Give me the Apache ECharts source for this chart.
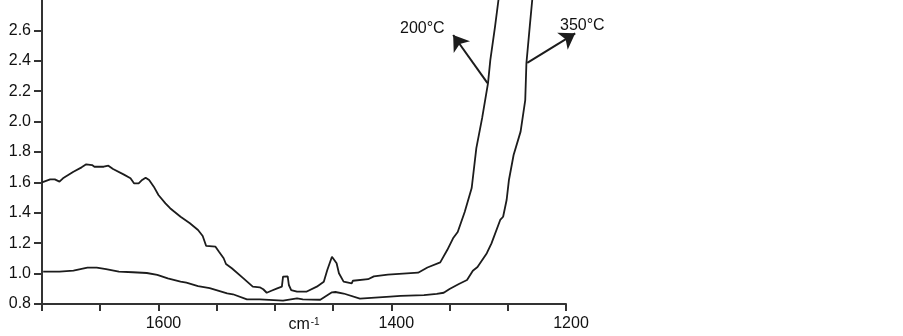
<!DOCTYPE html>
<html>
<head>
<meta charset="utf-8">
<script src="https://cdn.jsdelivr.net/npm/echarts@6/dist/echarts.min.js"></script>
<style>
  html, body { margin: 0; padding: 0; background: #fff; }
  #chart { width: 903px; height: 336px; }
</style>
</head>
<body>
<div id="chart"></div>
<script>
// wavenumber (cm-1) and absorbance
const wn200 = [1700,1693,1689,1685,1682,1673,1666,1662,1657,1655,1647,1643,1639,1630,1624,1621,1617,1614,1611,1608,
  1604,1600,1594,1590,1581,1573,1566,1562,1559,1551,1548,1544,1542,1537,1527,1519,1513,1510,1507,1503,
  1498,1494,1493,1489,1488,1486,1481,1473,1464,1458,1455,1451,1450,1447,1445,1441,1434,1433,1420,1415,
  1403,1377,1369,1358,1352,1347,1343,1337,1331,1327,1322,1317,1315,1311,1308,1306];
const abs200 = [1.60,1.62,1.62,1.605,1.627,1.67,1.699,1.719,1.714,1.703,1.703,1.71,1.688,1.653,1.627,1.594,1.594,1.616,1.631,1.616,
  1.572,1.517,1.462,1.43,1.374,1.331,1.287,1.247,1.182,1.177,1.144,1.101,1.063,1.035,0.969,0.914,0.91,0.897,0.874,0.887,
  0.903,0.914,0.98,0.982,0.925,0.892,0.881,0.881,0.914,0.947,1.024,1.111,1.115,1.068,1.002,0.947,0.936,0.953,0.963,0.982,
  0.993,1.006,1.04,1.074,1.155,1.232,1.274,1.405,1.563,1.826,2.024,2.252,2.405,2.622,2.80,2.88];

const wn350 = [1699,1685,1673,1661,1653,1645,1634,1622,1610,1601,1592,1581,1576,1566,1556,1541,1536,1524,1513,1493,
  1481,1476,1461,1451,1448,1441,1427,1401,1392,1372,1361,1355,1350,1342,1335,1330,1326,1318,1314,1306.5,
  1304,1301,1299,1295,1289,1285,1284,1281,1279,1278];
const abs350 = [1.013,1.013,1.02,1.039,1.039,1.03,1.013,1.009,1.004,0.991,0.968,0.947,0.94,0.918,0.905,0.87,0.864,0.831,0.831,0.822,
  0.837,0.831,0.828,0.877,0.879,0.869,0.836,0.849,0.853,0.859,0.866,0.874,0.899,0.932,0.958,1.019,1.043,1.134,1.199,1.353,
  1.374,1.484,1.616,1.78,1.934,2.142,2.384,2.636,2.80,2.88];

// x tick values and the labels printed under them
const xTickValues = [1600, 1400, 1250];
const xTickLabels = ['1600', '1400', '1200'];

// arrow annotations: [from on curve, to tip]
const arrow200 = [[1317.4, 2.253], [1346.9, 2.57]];
const arrow350 = [[1283.3, 2.386], [1242.1, 2.581]];

const zip = (xs, ys) => xs.map((x, i) => [x, ys[i]]);

const chart = echarts.init(document.getElementById('chart'));

const lineColor = '#1c1c1c';
const axisColor = '#333';
const font = 'Liberation Sans, Arial, sans-serif';

const option = {
  animation: false,
  grid: { left: 42, right: 337, top: 0, bottom: 32, containLabel: false, outerBoundsMode: 'none' },
  xAxis: {
    type: 'value',
    inverse: true,
    min: 1250,
    max: 1700,
    interval: 50,
    name: 'cm{sup|-1}',
    nameLocation: 'middle',
    nameGap: 13,
    nameMoveOverlap: false,
    nameTextStyle: {
      color: '#111', fontSize: 16, fontFamily: font, verticalAlign: 'top',
      rich: { sup: { fontSize: 10, verticalAlign: 'top', padding: [0, 0, 6, 1], color: '#111', fontFamily: font } }
    },
    axisLine: { lineStyle: { color: axisColor, width: 2 } },
    axisTick: { length: 7, lineStyle: { color: axisColor, width: 2 } },
    splitLine: { show: false },
    axisLabel: {
      margin: 12,
      fontSize: 16,
      fontFamily: font,
      color: '#111',
      padding: [0, 0, 0, 10],
      formatter: v => {
        const i = xTickValues.indexOf(v);
        return i >= 0 ? xTickLabels[i] : '';
      }
    }
  },
  yAxis: {
    type: 'value',
    min: 0.8,
    max: 2.8,
    interval: 0.2,
    axisLine: { show: true, lineStyle: { color: axisColor, width: 2 } },
    axisTick: { show: true, length: 8, lineStyle: { color: axisColor, width: 2 } },
    splitLine: { show: false },
    axisLabel: {
      margin: 11,
      fontSize: 16,
      fontFamily: font,
      color: '#111',
      showMaxLabel: false,
      formatter: v => v.toFixed(1)
    }
  },
  series: [
    {
      name: '200°C',
      type: 'line',
      data: zip(wn200, abs200),
      showSymbol: false,
      clip: false,
      lineStyle: { color: lineColor, width: 1.8 }
    },
    {
      name: '350°C',
      type: 'line',
      data: zip(wn350, abs350),
      showSymbol: false,
      clip: false,
      lineStyle: { color: lineColor, width: 1.8 }
    },
    {
      name: 'arrows',
      type: 'lines',
      coordinateSystem: 'cartesian2d',
      silent: true,
      clip: false,
      symbol: ['none', 'arrow'],
      symbolSize: [11, 15],
      lineStyle: { color: lineColor, width: 2, opacity: 1 },
      data: [{ coords: arrow200 }, { coords: arrow350 }]
    }
  ],
  graphic: [
    { type: 'text', left: 400, top: 21, style: { text: '200°C', fontSize: 16, fontFamily: font, fill: '#111' } },
    { type: 'text', left: 560, top: 18, style: { text: '350°C', fontSize: 16, fontFamily: font, fill: '#111' } }
  ]
};

chart.setOption(option);
</script>
</body>
</html>
